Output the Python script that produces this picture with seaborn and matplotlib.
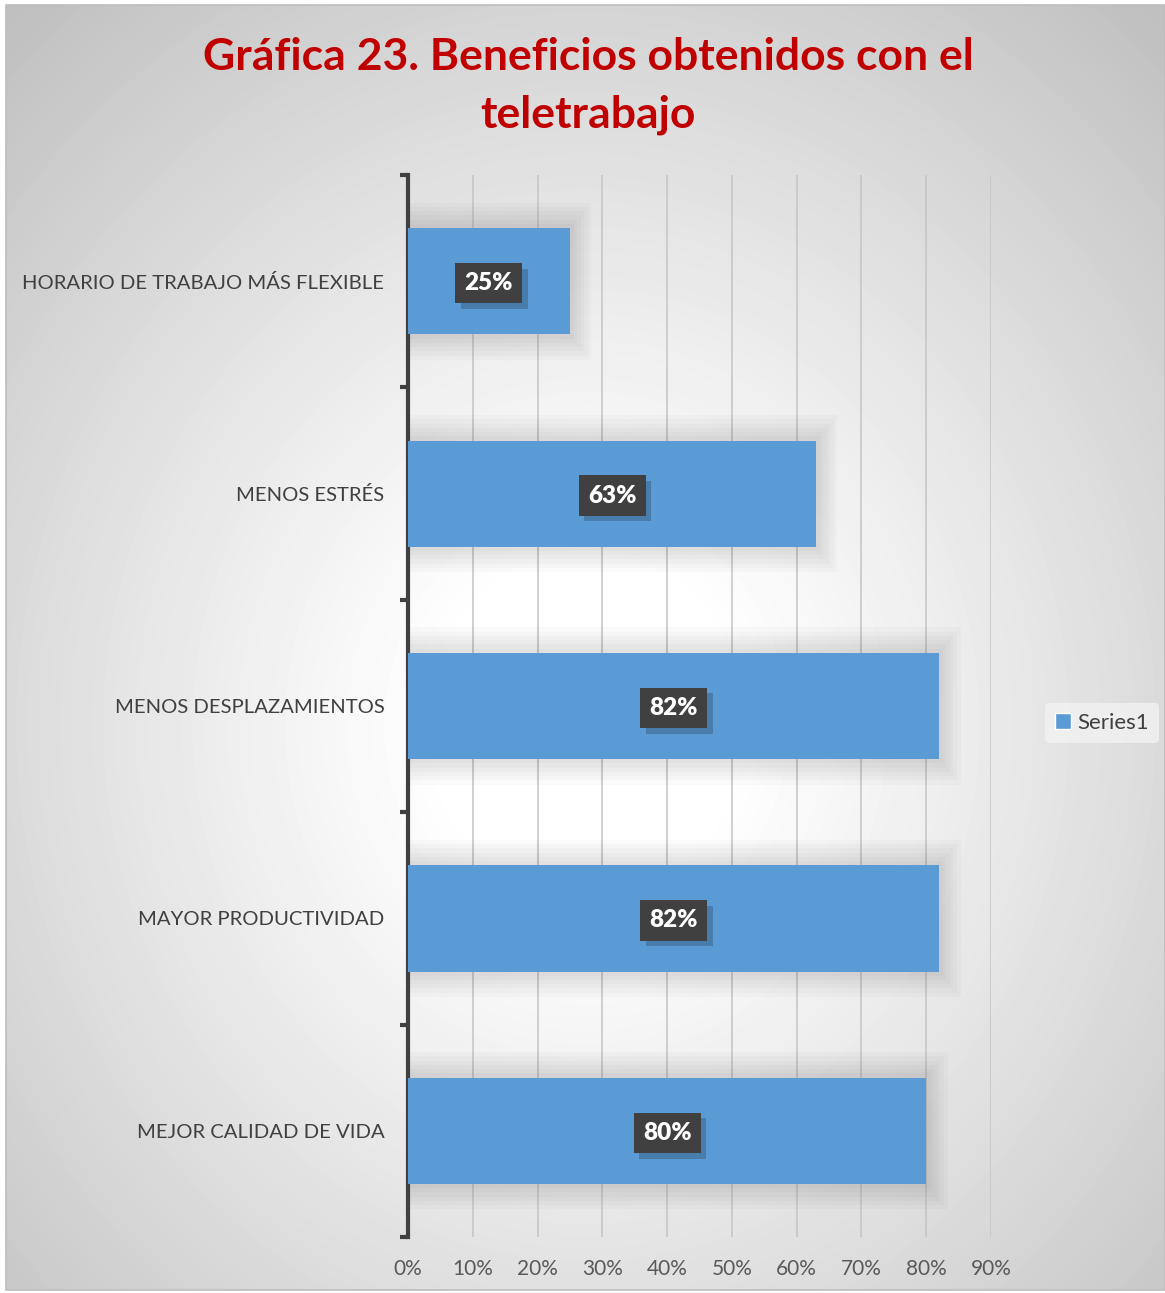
import numpy as np
import pandas as pd
import matplotlib
matplotlib.use("Agg")
import matplotlib.pyplot as plt
import matplotlib.patheffects as pe
from matplotlib.patches import Patch, Rectangle
from matplotlib.ticker import PercentFormatter, FixedLocator
import seaborn as sns

# ---- data ----
categories = [
    "HORARIO DE TRABAJO MÁS FLEXIBLE",
    "MENOS ESTRÉS",
    "MENOS DESPLAZAMIENTOS",
    "MAYOR PRODUCTIVIDAD",
    "MEJOR CALIDAD DE VIDA",
]
values = [25, 63, 82, 82, 80]
x_ticks = [0, 10, 20, 30, 40, 50, 60, 70, 80, 90]
title = "Gráfica 23. Beneficios obtenidos con el\nteletrabajo"
series_name = "Series1"

BAR_COLOR = "#5B9BD5"
TEXT_GREY = "#404040"

sns.set_theme(style="white")
plt.rcParams["font.family"] = ["Lato", "DejaVu Sans"]

W_PX, H_PX = 1165, 1293
fig = plt.figure(figsize=(W_PX / 100, H_PX / 100), dpi=100)
fig.patch.set_facecolor("white")

# ---- radial gradient backdrop ----
bx0, by0, bw, bh = 6, 3, 1159, 1285
bg = fig.add_axes([bx0 / W_PX, by0 / H_PX, bw / W_PX, bh / H_PX], zorder=-5)
yy, xx = np.mgrid[0:bh, 0:bw]
cx, cy = 580, 720
d = np.sqrt(((xx - cx) / (bw * 0.62)) ** 2 + ((yy - cy) / (bh * 0.62)) ** 2)
shade = 1.0 - 0.25 * np.clip((d - 0.2) / 1.0, 0, 1) ** 1.1
bg.imshow(shade, cmap="gray", vmin=0, vmax=1, aspect="auto", interpolation="bilinear")
bg.set_axis_off()
fig.add_artist(Rectangle((bx0 / W_PX, by0 / H_PX), bw / W_PX, bh / H_PX,
                         transform=fig.transFigure, fill=False,
                         edgecolor="#bdbdbd", lw=1.2))

# ---- main axes ----
left, right, top, bottom = 408, 991, 175, 1237
ax = fig.add_axes([left / W_PX, 1 - bottom / H_PX,
                   (right - left) / W_PX, (bottom - top) / H_PX])
ax.patch.set_alpha(0)

df = pd.DataFrame({"categoria": categories, "valor": values})

# soft shadow beneath each bar
pos = np.arange(len(categories))
for k in range(1, 7):
    ax.barh(pos, [v + 0.55 * k for v in values], height=0.5 + 0.04 * k,
            color="black", alpha=0.018, zorder=1, linewidth=0)

sns.barplot(data=df, x="valor", y="categoria", orient="h", color=BAR_COLOR,
            saturation=1, width=0.5, ax=ax, zorder=3, linewidth=0)

ax.set_xlim(0, 90)
ax.set_ylim(len(categories) - 0.5, -0.5)
ax.xaxis.set_major_locator(FixedLocator(x_ticks))
ax.xaxis.set_major_formatter(PercentFormatter(decimals=0))
ax.grid(axis="x", color="#c4c4c4", lw=1.1, zorder=0)
ax.grid(axis="y", visible=False)
ax.set_axisbelow(True)
ax.set_xlabel("")
ax.set_ylabel("")

for s in ["top", "right", "bottom"]:
    ax.spines[s].set_visible(False)
ax.spines["left"].set_color(TEXT_GREY)
ax.spines["left"].set_linewidth(3)

ax.tick_params(axis="x", length=0, pad=16, labelsize=15, labelcolor="#595959")
ax.tick_params(axis="y", which="major", length=0, pad=17, labelsize=14.6,
               labelcolor=TEXT_GREY)
ax.yaxis.set_minor_locator(FixedLocator(np.arange(-0.5, len(categories), 1.0)))
ax.tick_params(axis="y", which="minor", left=True, length=6, width=3,
               color=TEXT_GREY, direction="out")

# value labels in dark boxes with a drop shadow
for i, v in enumerate(values):
    t = ax.text(v / 2, i, f"{v}%", ha="center", va="center_baseline",
                fontsize=17.5, fontweight="heavy", color="white", zorder=5,
                bbox=dict(boxstyle="square,pad=0.38", fc="#404040", ec="none"))
    t.get_bbox_patch().set_path_effects([
        pe.SimplePatchShadow(offset=(4, -4), shadow_rgbFace="black", alpha=0.2),
        pe.Normal(),
    ])

# title
fig.text(588 / W_PX, 1 - 86 / H_PX, title, ha="center", va="center",
         fontsize=32, fontweight="bold", color="#C00000", linespacing=1.55)

# legend
fig.legend(handles=[Patch(facecolor=BAR_COLOR, label=series_name)],
           loc="center left", bbox_to_anchor=(1034 / W_PX, 1 - 723 / H_PX),
           frameon=True, facecolor="#f2f2f2", edgecolor="none", framealpha=0.8,
           fontsize=16, handlelength=0.7, handleheight=0.7,
           handletextpad=0.3, borderpad=0.45, labelcolor=TEXT_GREY)

fig.savefig("out.png", dpi=100)
